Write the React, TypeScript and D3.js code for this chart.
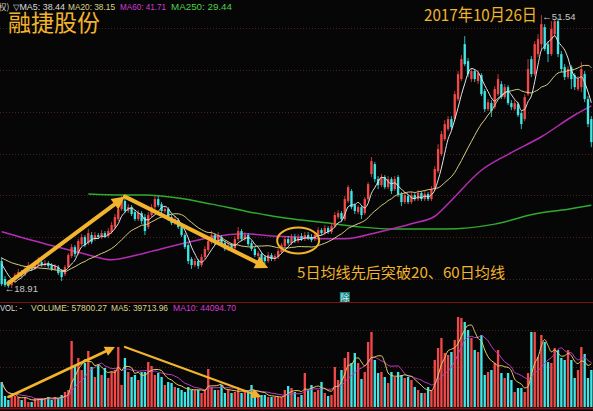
import React from 'react';
import * as d3 from 'd3';

const W = 593;
const H = 411;

// ---- price data (one entry per trading day) ----
const opens = [
  22.14, 19.99, 19.51, 19.27, 19.87, 20.35, 20.83, 20.59, 21.19, 21.54,
  21.19, 21.66, 22.02, 21.66, 21.90, 21.66, 21.19, 21.42, 20.95, 20.59,
  21.42, 22.74, 23.81, 23.10, 24.17, 25.01, 24.29, 25.25, 24.77, 25.25,
  25.01, 25.49, 25.13, 25.61, 26.20, 27.16, 28.35, 29.31, 28.12, 28.59,
  28.00, 27.16, 27.88, 27.40, 26.20, 27.64, 28.59, 29.55, 28.95, 28.12,
  28.35, 27.40, 26.68, 27.04, 26.20, 25.25, 24.05, 22.38, 21.66, 22.14,
  21.66, 22.62, 23.46, 24.41, 25.25, 24.29, 25.01, 24.29, 23.58, 24.05,
  23.69, 24.77, 25.73, 24.77, 25.25, 24.29, 23.58, 22.74, 22.98, 22.62,
  22.14, 22.86, 22.38, 22.62, 23.22, 23.93, 24.77, 24.29, 25.01, 24.53,
  25.13, 24.77, 25.25, 25.01, 24.77, 25.25, 25.85, 25.49, 26.08, 25.61,
  26.32, 27.40, 27.88, 27.16, 29.31, 30.51, 28.83, 28.00, 28.59, 27.88,
  29.55, 32.54, 33.73, 31.94, 31.22, 32.18, 30.98, 31.94, 30.74, 32.18,
  30.15, 29.19, 29.91, 29.19, 30.03, 29.55, 30.27, 29.55, 30.15, 29.55,
  30.74, 32.89, 34.93, 36.72, 37.92, 39.11, 39.11, 41.50, 43.89, 48.07,
  46.04, 43.89, 44.85, 43.65, 44.37, 42.46, 40.30, 41.02, 40.54, 42.10,
  43.29, 41.74, 42.93, 41.02, 40.30, 40.90, 39.83, 39.11, 42.10, 46.28,
  44.49, 46.88, 48.07, 50.10, 48.07, 46.88, 49.27, 50.82, 46.88, 45.32,
  44.13, 45.32, 44.37, 42.70, 42.93, 44.49, 41.50, 39.11,
];
const closes = [
  19.39, 19.27, 19.15, 19.87, 20.47, 20.83, 20.47, 21.19, 21.66, 21.19,
  21.78, 22.14, 21.66, 21.90, 21.54, 21.19, 21.54, 20.71, 20.23, 21.42,
  22.86, 23.81, 22.98, 24.53, 25.01, 24.05, 25.49, 24.41, 25.25, 25.01,
  25.49, 25.13, 25.73, 26.44, 27.40, 28.35, 29.55, 28.12, 28.59, 27.76,
  27.16, 27.88, 26.92, 25.73, 27.64, 28.59, 29.55, 28.83, 28.12, 28.35,
  27.16, 26.68, 27.16, 26.20, 25.25, 23.81, 22.14, 21.66, 22.14, 21.54,
  22.62, 23.58, 24.53, 25.25, 24.29, 25.25, 24.05, 23.58, 24.05, 23.58,
  24.77, 25.73, 24.77, 25.25, 24.17, 23.58, 22.86, 23.10, 22.14, 22.14,
  22.86, 22.38, 22.74, 23.34, 24.05, 24.77, 24.29, 25.01, 24.53, 25.01,
  24.77, 25.25, 24.89, 24.65, 25.25, 25.85, 25.49, 26.08, 25.61, 26.32,
  27.64, 27.88, 27.16, 29.55, 30.98, 28.59, 28.12, 28.59, 27.64, 29.55,
  31.34, 34.09, 31.94, 31.22, 32.18, 30.98, 31.94, 30.51, 31.94, 30.15,
  29.19, 30.03, 29.19, 30.03, 29.55, 30.27, 29.55, 30.15, 29.55, 30.74,
  33.13, 35.53, 37.32, 38.51, 39.11, 38.15, 42.10, 44.49, 46.28, 45.68,
  44.49, 44.85, 43.89, 44.61, 42.10, 40.30, 41.14, 40.07, 42.70, 43.89,
  41.74, 42.93, 41.02, 40.54, 41.02, 39.59, 38.51, 41.74, 45.09, 44.49,
  48.07, 48.67, 50.46, 47.48, 46.88, 49.87, 50.82, 46.88, 45.09, 44.13,
  45.09, 43.89, 42.93, 43.89, 45.09, 41.50, 38.51, 36.36,
];
const highs = [
  22.62, 20.35, 19.87, 20.11, 20.71, 21.19, 21.07, 21.54, 22.02, 21.78,
  22.14, 22.62, 22.26, 22.26, 22.14, 21.90, 21.78, 21.66, 21.19, 21.66,
  23.10, 24.17, 24.05, 24.77, 25.37, 25.25, 25.97, 25.61, 25.61, 25.49,
  25.85, 25.73, 26.08, 26.80, 27.76, 28.83, 29.91, 29.67, 28.95, 28.83,
  28.23, 28.23, 28.12, 27.76, 28.00, 28.95, 29.91, 29.91, 29.19, 28.71,
  28.59, 27.64, 27.52, 27.28, 26.44, 25.49, 24.29, 22.62, 22.50, 22.38,
  22.98, 23.93, 24.89, 25.73, 25.49, 25.61, 25.25, 24.53, 24.41, 24.29,
  25.13, 26.20, 25.97, 25.61, 25.49, 24.53, 23.81, 23.34, 23.22, 22.86,
  23.22, 23.10, 22.98, 23.58, 24.29, 25.13, 25.13, 25.37, 25.37, 25.37,
  25.49, 25.61, 25.61, 25.37, 25.61, 26.20, 26.08, 26.44, 26.32, 26.68,
  28.00, 28.23, 28.12, 29.91, 31.22, 30.74, 29.07, 28.83, 28.83, 29.79,
  31.58, 34.57, 33.97, 32.30, 32.54, 32.42, 32.30, 32.18, 32.30, 32.42,
  30.39, 30.39, 30.15, 30.39, 30.27, 30.63, 30.51, 30.51, 30.39, 31.10,
  33.49, 36.12, 37.69, 38.99, 39.47, 39.47, 42.46, 44.85, 46.76, 49.03,
  46.40, 45.21, 45.09, 44.97, 44.61, 42.70, 41.50, 41.38, 43.05, 44.49,
  43.65, 43.29, 43.17, 41.38, 41.38, 41.14, 40.07, 42.10, 46.28, 46.64,
  48.43, 49.27, 51.54, 50.46, 48.43, 50.82, 51.06, 51.18, 47.24, 45.68,
  45.44, 45.56, 44.61, 44.25, 45.92, 44.85, 41.86, 39.47,
];
const lows = [
  19.15, 19.03, 18.95, 18.91, 19.63, 20.11, 20.23, 20.35, 20.95, 20.95,
  21.07, 21.42, 21.42, 21.42, 21.30, 20.95, 20.95, 20.47, 19.75, 20.35,
  21.30, 22.50, 22.62, 22.86, 23.93, 23.81, 24.05, 24.17, 24.53, 24.77,
  24.77, 24.89, 24.89, 25.37, 25.97, 26.92, 28.12, 27.88, 27.88, 27.52,
  26.92, 26.92, 26.56, 25.25, 25.97, 27.40, 28.35, 28.59, 27.76, 27.88,
  26.92, 26.44, 26.44, 25.97, 25.01, 23.58, 21.78, 21.19, 21.42, 21.19,
  21.42, 22.38, 23.22, 24.17, 24.05, 24.05, 23.81, 23.34, 23.34, 23.34,
  23.46, 24.53, 24.53, 24.53, 23.93, 23.34, 22.62, 22.50, 21.90, 21.78,
  21.90, 22.14, 22.14, 22.38, 22.98, 23.69, 24.05, 24.05, 24.29, 24.29,
  24.53, 24.53, 24.65, 24.41, 24.53, 25.01, 25.25, 25.25, 25.37, 25.37,
  26.08, 27.16, 26.80, 26.92, 29.07, 28.35, 27.76, 27.76, 27.16, 27.64,
  29.31, 32.18, 31.58, 30.74, 30.98, 30.74, 30.74, 30.15, 30.51, 29.79,
  28.71, 28.95, 28.95, 28.95, 29.31, 29.31, 29.31, 29.31, 29.31, 29.31,
  30.51, 32.66, 34.69, 36.48, 37.68, 37.80, 38.87, 41.26, 43.65, 45.44,
  44.13, 43.53, 43.53, 43.29, 41.86, 39.95, 40.07, 39.35, 40.30, 41.86,
  41.50, 41.50, 40.78, 40.18, 40.07, 39.35, 37.92, 38.87, 41.86, 44.13,
  44.25, 46.52, 47.48, 47.24, 45.92, 46.64, 48.91, 46.52, 44.73, 43.77,
  43.89, 42.70, 42.58, 42.46, 42.34, 41.14, 38.15, 35.76,
];
// closes of the days just before the visible window (feed the moving averages)
const priorCloses = [
  23.2, 23.0, 23.4, 23.1, 22.8, 23.0, 22.7, 22.5, 22.9, 22.6,
  22.4, 22.7, 22.3, 22.5, 22.2, 22.6, 22.4, 22.3, 22.2,
];
const volumes = [
  25000, 11000, 7000, 11000, 11000, 10000, 7000, 9000, 5000, 5000,
  9000, 9000, 9000, 9000, 10000, 7000, 10000, 9000, 12000, 15000,
  17000, 66000, 42000, 49000, 37000, 44000, 56000, 40000, 30000, 42000,
  32000, 39000, 29000, 35000, 37000, 60000, 22000, 49000, 35000, 30000,
  32000, 27000, 35000, 35000, 45000, 41000, 32000, 34000, 30000, 22000,
  25000, 24000, 20000, 19000, 17000, 15000, 20000, 17000, 17000, 17000,
  14000, 17000, 38000, 20000, 17000, 17000, 22000, 14000, 17000, 14000,
  15000, 19000, 14000, 17000, 15000, 22000, 14000, 12000, 12000, 12000,
  10000, 10000, 10000, 10000, 10000, 17000, 21000, 19000, 15000, 10000,
  12000, 34000, 17000, 22000, 15000, 17000, 25000, 14000, 11000, 12000,
  40000, 27000, 37000, 49000, 55000, 44000, 54000, 44000, 28000, 35000,
  65000, 75000, 47000, 34000, 35000, 30000, 24000, 35000, 30000, 35000,
  32000, 29000, 30000, 27000, 20000, 17000, 14000, 14000, 20000, 17000,
  47000, 59000, 69000, 54000, 52000, 55000, 67000, 90000, 89000, 85000,
  77000, 69000, 57000, 55000, 72000, 32000, 35000, 37000, 44000, 57000,
  34000, 29000, 34000, 27000, 15000, 19000, 19000, 15000, 34000, 75000,
  75000, 50000, 72000, 65000, 45000, 44000, 59000, 57000, 49000, 47000,
  57000, 47000, 29000, 37000, 60000, 53000, 29000, 37000,
];
// long moving averages at selected days
const ma60Days = [0, 15, 25, 33, 40, 45, 55, 63, 73, 83, 90, 97, 103, 113, 123, 130, 134, 144, 152, 162, 172, 177];
const ma60Values = [25.66, 24.0, 23.0, 22.3, 22.8, 23.3, 24.3, 25.0, 25.4, 25.1, 25.0, 24.8, 24.8, 25.6, 26.6, 27.5, 29.0, 33.0, 34.9, 37.0, 39.6, 40.7];
const ma250Days = [26, 36, 43, 53, 63, 73, 83, 90, 98, 108, 118, 133, 148, 160, 170, 177];
const ma250Values = [30.15, 30.03, 30.03, 29.67, 28.95, 28.12, 27.4, 27.04, 26.68, 26.2, 25.97, 25.97, 26.56, 27.76, 28.35, 28.83];

const priceTicks = [20, 25, 30, 35, 40, 45, 50];
const volTicks = [40000, 77000];

const RED = '#f24848';
const CYAN = '#3fe6e6';
const GOLD = '#f2b42c';

function movingAvg(values: number[], n: number, prior: number[] = []) {
  const all = prior.concat(values);
  const off = prior.length;
  return values.map((_, i) => {
    const end = i + off + 1;
    const start = Math.max(0, end - n);
    const s = all.slice(start, end);
    return d3.mean(s) as number;
  });
}

function Arrow({ x1, y1, x2, y2, w, hl, hw, color }: any) {
  const ang = Math.atan2(y2 - y1, x2 - x1);
  const bx = x2 - hl * Math.cos(ang);
  const by = y2 - hl * Math.sin(ang);
  const px = -Math.sin(ang) * hw;
  const py = Math.cos(ang) * hw;
  return (
    <g>
      <line x1={x1} y1={y1} x2={bx} y2={by} stroke={color} strokeWidth={w} strokeLinecap="round" />
      <polygon points={`${x2},${y2} ${bx + px},${by + py} ${bx - px},${by - py}`} fill={color} />
    </g>
  );
}

export default function App() {
  const n = closes.length;
  const idx = d3.range(n);
  const x = d3.scaleBand<number>().domain(idx).range([0, W]).paddingInner(0.3).paddingOuter(0.15);
  const bw = x.bandwidth();
  const xc = (i: number) => (x(i) as number) + bw / 2;
  const y = d3.scaleLinear().domain([20, 50]).range([279, 28]);
  const yv = d3.scaleLinear().domain([0, 92000]).range([407, 315]);

  const ma5 = movingAvg(closes, 5, priorCloses);
  const ma20 = movingAvg(closes, 20, priorCloses);
  const vma5 = movingAvg(volumes, 5);
  const vma10 = movingAvg(volumes, 10);

  const lineP = d3.line<number>().x((_, i) => xc(i)).y((d) => y(d)).curve(d3.curveMonotoneX);
  const lineV = d3.line<number>().x((_, i) => xc(i)).y((d) => yv(d)).curve(d3.curveMonotoneX);
  const sparse = (days: number[], vals: number[]) =>
    d3.line<number>().x((_, k) => xc(days[k])).y((d) => y(d)).curve(d3.curveMonotoneX)(vals) as string;

  const maxI = d3.maxIndex(highs);
  const minI = d3.minIndex(lows);

  const legendFont = '"Liberation Sans", Arial, sans-serif';
  const cjk = '"Noto Sans CJK SC", sans-serif';
  const lt = (s: string, xx: number, yy: number, len: number, fill: string) => (
    <text x={xx} y={yy} fill={fill} textLength={len} lengthAdjust="spacingAndGlyphs">{s}</text>
  );

  return (
    <svg width={W} height={H} style={{ position: 'absolute', left: 0, top: 0, background: '#060606' }}>
      <rect x={0} y={0} width={W} height={H} fill="#060606" />
      {/* grid */}
      {priceTicks.map((t) => (
        <line key={'g' + t} x1={0} x2={W} y1={Math.round(y(t)) + 0.5} y2={Math.round(y(t)) + 0.5} stroke="#4a2222" strokeDasharray="1,2" />
      ))}
      {volTicks.map((t) => (
        <line key={'v' + t} x1={0} x2={W} y1={Math.round(yv(t)) + 0.5} y2={Math.round(yv(t)) + 0.5} stroke="#4a2222" strokeDasharray="1,2" />
      ))}
      <line x1={0} x2={W} y1={302.5} y2={302.5} stroke="#7a1414" strokeWidth={1} />
      <line x1={0} x2={W} y1={408.5} y2={408.5} stroke="#7a1414" strokeWidth={2} />

      {/* long MAs */}
      <path d={sparse(ma250Days, ma250Values)} fill="none" stroke="#2faa2f" strokeWidth={1.5} />
      <path d={sparse(ma60Days, ma60Values)} fill="none" stroke="#b52cb5" strokeWidth={1.5} />

      {/* candles */}
      {idx.map((i) => {
        const up = closes[i] >= opens[i];
        const c = up ? RED : CYAN;
        const top = y(Math.max(opens[i], closes[i]));
        const bot = y(Math.min(opens[i], closes[i]));
        return (
          <g key={'c' + i}>
            <line x1={xc(i)} x2={xc(i)} y1={y(highs[i])} y2={y(lows[i])} stroke={c} strokeWidth={0.8} />
            <rect x={x(i)} y={top} width={bw} height={Math.max(1, bot - top)} fill={c} />
          </g>
        );
      })}

      <path d={lineP(ma20) as string} fill="none" stroke="#d8cd7c" strokeWidth={1} />
      <path d={lineP(ma5) as string} fill="none" stroke="#e4e4e4" strokeWidth={1} />

      {/* volume */}
      {idx.map((i) => {
        const up = closes[i] >= opens[i];
        return (
          <rect key={'v' + i} x={x(i)} y={yv(volumes[i])} width={bw} height={407 - yv(volumes[i])} fill={up ? RED : CYAN} />
        );
      })}
      <path d={lineV(vma10) as string} fill="none" stroke="#c53cc5" strokeWidth={1} />
      <path d={lineV(vma5) as string} fill="none" stroke="#e2d060" strokeWidth={1} />

      {/* annotations */}
      <Arrow x1={xc(2)} y1={y(19.5)} x2={xc(37)} y2={y(29.85)} w={4} hl={13} hw={6.5} color={GOLD} />
      <Arrow x1={xc(37)} y1={y(29.85)} x2={xc(80)} y2={y(21.3)} w={4} hl={13} hw={6.5} color={GOLD} />
      <Arrow x1={xc(2)} y1={yv(10000)} x2={xc(34)} y2={yv(60000)} w={2.5} hl={10} hw={5} color={GOLD} />
      <Arrow x1={xc(37)} y1={yv(60000)} x2={xc(78)} y2={yv(10000)} w={2.2} hl={10} hw={5} color={GOLD} />
      <ellipse cx={xc(89)} cy={y(24.6)} rx={21} ry={13} fill="none" stroke={GOLD} strokeWidth={2} />

      <text x={xc(maxI) + 1} y={y(highs[maxI]) + 5} fill="#c8c8c8" fontSize={9.5} fontFamily={legendFont}>
        {'\u2190' + highs[maxI].toFixed(2)}
      </text>
      <text x={xc(minI) - 7} y={y(lows[minI]) + 4} fill="#c8c8c8" fontSize={9.5} fontFamily={legendFont}>
        {'\u2190' + lows[minI].toFixed(2)}
      </text>

      <g>
        <rect x={xc(103) - 5} y={292} width={10} height={10} fill="#178585" />
        <text x={xc(103)} y={300.5} fill="#d8f0f0" fontSize={9} textAnchor="middle" fontFamily={cjk}>除</text>
      </g>

      <text x={8} y={31} fill={GOLD} fontSize={23} fontFamily={cjk}>融捷股份</text>
      <text x={424} y={21} fill={GOLD} fontSize={16.5} fontFamily={cjk} textLength={113} lengthAdjust="spacingAndGlyphs">2017年10月26日</text>
      <text x={297} y={278} fill={GOLD} fontSize={15} fontFamily={cjk} textLength={208} lengthAdjust="spacingAndGlyphs">5日均线先后突破20、60日均线</text>

      {/* legends */}
      <text x={-2} y={10} fill="#cfcfcf" fontFamily={cjk} fontSize={8.5}>权)</text>
      <g fontFamily={legendFont} fontSize={8.3}>
        {lt('▽MA5: 38.44', 13, 10, 52, '#dcdcdc')}
        {lt('MA20: 38.15', 68, 10, 47, '#d8d48a')}
        {lt('MA60: 41.71', 120, 10, 46, '#d23cd2')}
        {lt('MA250: 29.44', 171, 10, 61, '#4ccf4c')}

        {lt('VOL: -', 0, 311, 22, '#dcdcdc')}
        {lt('VOLUME: 57800.27', 31, 311, 76, '#d8d48a')}
        {lt('MA5: 39713.96', 111, 311, 57, '#d8d48a')}
        {lt('MA10: 44094.70', 173, 311, 63, '#d23cd2')}
      </g>
    </svg>
  );
}
